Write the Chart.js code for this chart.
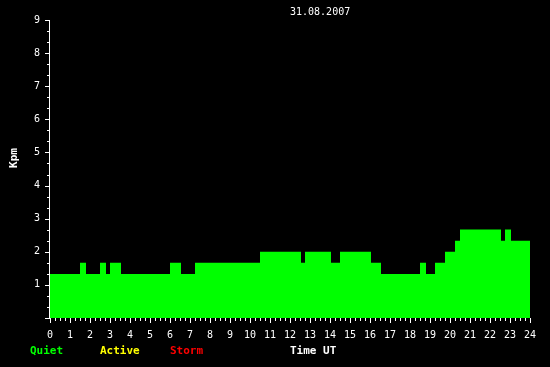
<!DOCTYPE html>
<html>
<head>
<meta charset="utf-8">
<script src="https://cdn.jsdelivr.net/npm/chart.js@4"></script>
<style>
  html, body { margin: 0; padding: 0; background: #000; }
  #wrap { width: 550px; height: 367px; }
</style>
</head>
<body>
<div id="wrap"><canvas id="kpChart" width="550" height="367"></canvas></div>
<script>
// Kpm step plot for one day, values change at the listed UT hours

const TITLE = '31.08.2007';
const CHANGE_TIMES = [0, 1.5, 1.8, 2.5, 2.8, 3.0, 3.55, 6.0, 6.55, 7.25, 10.5, 12.55, 12.75,
  14.05, 14.5, 16.05, 16.55, 18.5, 18.8, 19.25, 19.75, 20.25, 20.5, 22.55, 22.75, 23.05, 24];
const KPM_VALUES = [1.33, 1.67, 1.33, 1.67, 1.33, 1.67, 1.33, 1.67, 1.33, 1.67, 2.0, 1.67, 2.0,
  1.67, 2.0, 1.67, 1.33, 1.67, 1.33, 1.67, 2.0, 2.33, 2.67, 2.33, 2.67, 2.33, 2.33];
const X_TICKS = [0, 1, 2, 3, 4, 5, 6, 7, 8, 9, 10, 11, 12, 13, 14, 15, 16, 17, 18, 19, 20, 21, 22, 23, 24];
const Y_TICKS = [1, 2, 3, 4, 5, 6, 7, 8, 9];
const LEGEND_LABELS = ['Quiet', 'Active', 'Storm'];
const LEGEND_COLORS = ['#00ff00', '#ffff00', '#ff0000'];

const MONO = '"DejaVu Sans Mono", monospace';

// axis lines + major/minor tick marks, and the loose texts around the plot
const decorations = {
  id: 'decorations',
  afterDatasetsDraw(chart) {
    const ctx = chart.ctx;
    const xs = chart.scales.x;
    const ys = chart.scales.y;
    const area = chart.chartArea;
    ctx.save();
    ctx.strokeStyle = '#ffffff';
    ctx.lineWidth = 1;
    ctx.beginPath();
    // y axis line
    ctx.moveTo(area.left - 0.5, ys.getPixelForValue(9));
    ctx.lineTo(area.left - 0.5, ys.getPixelForValue(0));
    // y ticks every third of a unit
    for (let i = 0; i <= 27; i++) {
      const y = Math.round(ys.getPixelForValue(i / 3)) + 0.5;
      const len = i % 3 === 0 ? 5 : 3;
      ctx.moveTo(area.left - len, y);
      ctx.lineTo(area.left, y);
    }
    // x ticks every quarter hour
    const base = Math.round(ys.getPixelForValue(0));
    for (let i = 0; i <= 96; i++) {
      const x = Math.round(xs.getPixelForValue(i / 4)) + 0.5;
      const len = i % 4 === 0 ? 5 : 3;
      ctx.moveTo(x, base);
      ctx.lineTo(x, base + len);
    }
    ctx.stroke();

    // title
    ctx.fillStyle = '#ffffff';
    ctx.font = '10px ' + MONO;
    ctx.textBaseline = 'alphabetic';
    ctx.textAlign = 'left';
    ctx.fillText(TITLE, 290, 15);

    // y axis title
    ctx.save();
    ctx.translate(17, 158);
    ctx.rotate(-Math.PI / 2);
    ctx.textAlign = 'center';
    ctx.font = 'bold 11px ' + MONO;
    ctx.fillText('Kpm', 0, 0);
    ctx.restore();

    // legend row
    ctx.font = 'bold 11px ' + MONO;
    const legendX = [30, 100, 170];
    LEGEND_LABELS.forEach((lab, i) => {
      ctx.fillStyle = LEGEND_COLORS[i];
      ctx.fillText(lab, legendX[i], 354);
    });
    ctx.fillStyle = '#ffffff';
    ctx.fillText('Time UT', 290, 354);
    ctx.restore();
  }
};

const points = CHANGE_TIMES.map((t, i) => ({ x: t, y: KPM_VALUES[i] }));

new Chart(document.getElementById('kpChart'), {
  type: 'line',
  data: {
    datasets: [{
      label: 'Kpm',
      data: points,
      stepped: 'before',
      fill: 'origin',
      backgroundColor: '#00ff00',
      borderColor: '#00ff00',
      borderWidth: 0,
      pointRadius: 0
    }]
  },
  options: {
    responsive: false,
    animation: false,
    layout: { padding: { top: 20, right: 20, left: 0, bottom: 0 } },
    plugins: {
      legend: { display: false },
      tooltip: { enabled: false }
    },
    scales: {
      x: {
        type: 'linear',
        min: 0,
        max: 24,
        afterFit: (s) => { s.height = 49; },
        afterBuildTicks: (s) => { s.ticks = X_TICKS.map(v => ({ value: v })); },
        grid: { display: false, drawTicks: false },
        border: { display: false },
        ticks: {
          color: '#ffffff',
          font: { family: MONO, size: 10 },
          padding: 11,
          maxRotation: 0,
          autoSkip: false
        }
      },
      y: {
        min: 0,
        max: 9,
        afterFit: (s) => { s.width = 50; },
        afterBuildTicks: (s) => { s.ticks = Y_TICKS.map(v => ({ value: v })); },
        grid: { display: false, drawTicks: false },
        border: { display: false },
        ticks: {
          color: '#ffffff',
          font: { family: MONO, size: 10 },
          padding: 10,
          autoSkip: false
        }
      }
    }
  },
  plugins: [decorations]
});
</script>
</body>
</html>
